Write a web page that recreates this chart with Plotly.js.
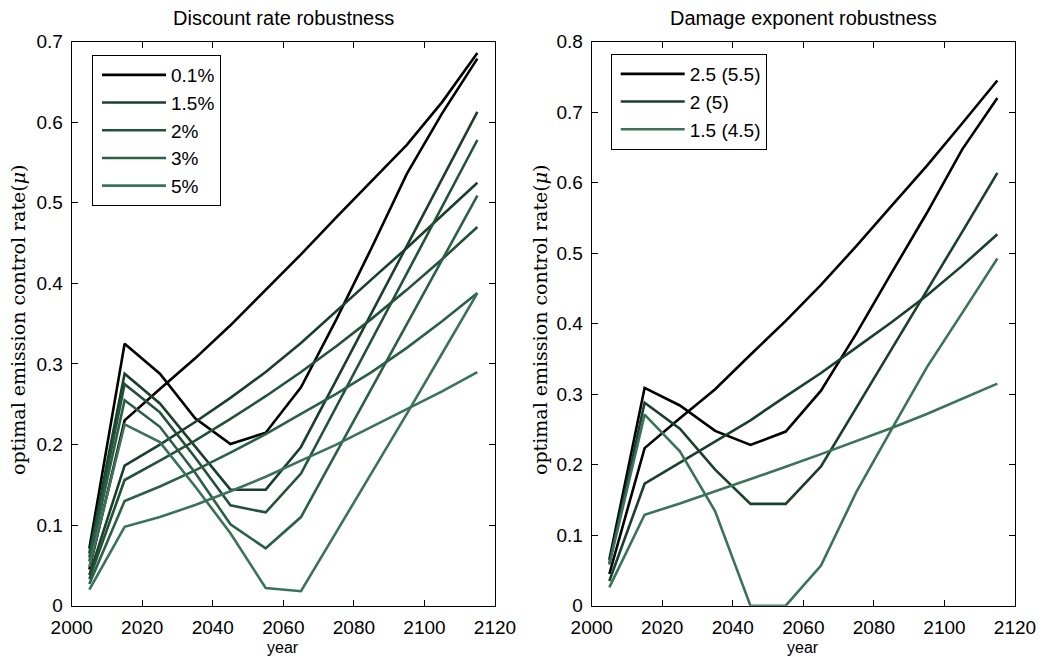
<!DOCTYPE html>
<html>
<head>
<meta charset="utf-8">
<script src="https://cdn.plot.ly/plotly-3.0.1.min.js"></script>
<style>html,body{margin:0;padding:0;background:#fff;}#chart{width:1043px;height:657px;}</style>
</head>
<body>
<div id="chart"></div>
<script>
// ---- data ----
var years = [2005,2015,2025,2035,2045,2055,2065,2075,2085,2095,2105,2115];

// Left panel: discount rate robustness (each rate: optimal path with dip, and smoother path)
var discountLabels = ['0.1%','1.5%','2%','3%','5%'];
var dr01_dip    = [0.071,0.325,0.288,0.2325,0.2006,0.2147,0.271,0.355,0.444,0.536,0.611,0.679];
var dr01_smooth = [0.045,0.230,0.269,0.307,0.348,0.392,0.436,0.482,0.527,0.572,0.625,0.686];
var dr15_dip    = [0.065,0.288,0.251,0.197,0.144,0.144,0.197,0.280,0.363,0.446,0.530,0.613];
var dr15_smooth = [0.038,0.174,0.200,0.228,0.258,0.290,0.326,0.366,0.405,0.444,0.484,0.525];
var dr2_dip     = [0.060,0.275,0.240,0.184,0.1245,0.1158,0.164,0.247,0.330,0.412,0.495,0.578];
var dr2_smooth  = [0.033,0.156,0.180,0.205,0.232,0.260,0.290,0.322,0.356,0.392,0.430,0.470];
var dr3_dip     = [0.055,0.255,0.222,0.165,0.101,0.0712,0.110,0.190,0.270,0.350,0.430,0.509];
var dr3_smooth  = [0.027,0.130,0.148,0.168,0.190,0.213,0.238,0.263,0.290,0.320,0.353,0.388];
var dr5_dip     = [0.048,0.225,0.203,0.148,0.090,0.022,0.018,0.091,0.164,0.238,0.313,0.388];
var dr5_smooth  = [0.020,0.098,0.110,0.125,0.142,0.160,0.180,0.200,0.222,0.244,0.266,0.290];

// Right panel: damage exponent robustness
var damageLabels = ['2.5 (5.5)','2 (5)','1.5 (4.5)'];
var de25_dip    = [0.065,0.309,0.284,0.248,0.228,0.247,0.305,0.386,0.472,0.557,0.647,0.720];
var de25_smooth = [0.045,0.2235,0.266,0.307,0.356,0.404,0.455,0.510,0.567,0.624,0.684,0.745];
var de2_dip     = [0.060,0.288,0.251,0.193,0.1445,0.1445,0.1975,0.280,0.364,0.447,0.530,0.614];
var de2_smooth  = [0.035,0.173,0.203,0.233,0.263,0.297,0.330,0.366,0.402,0.440,0.482,0.527];
var de15_dip    = [0.058,0.271,0.219,0.134,0,0,0.057,0.161,0.250,0.338,0.415,0.4925];
var de15_smooth = [0.026,0.129,0.145,0.162,0.179,0.197,0.215,0.233,0.252,0.272,0.293,0.315];

var leftColors  = ['#000000','#1b3f2d','#22523a','#2a6046','#3a7359'];
var rightColors = ['#000000','#1b3f2d','#3a7359'];

var leftSeries = [
  [dr01_dip, dr01_smooth],[dr15_dip, dr15_smooth],[dr2_dip, dr2_smooth],
  [dr3_dip, dr3_smooth],[dr5_dip, dr5_smooth]
];
var rightSeries = [[de25_dip, de25_smooth],[de2_dip, de2_smooth],[de15_dip, de15_smooth]];

var traces = [];
leftSeries.forEach(function(s, i){
  traces.push({x: years, y: s[0], type:'scatter', mode:'lines', name: discountLabels[i],
    line:{color:leftColors[i], width:2.6}, xaxis:'x', yaxis:'y', legend:'legend', legendgroup:'L'+i});
  traces.push({x: years, y: s[1], type:'scatter', mode:'lines', name: discountLabels[i], showlegend:false,
    line:{color:leftColors[i], width:2.6}, xaxis:'x', yaxis:'y', legendgroup:'L'+i});
});
rightSeries.forEach(function(s, i){
  traces.push({x: years, y: s[0], type:'scatter', mode:'lines', name: damageLabels[i],
    line:{color:rightColors[i], width:2.6}, xaxis:'x2', yaxis:'y2', legend:'legend2', legendgroup:'R'+i});
  traces.push({x: years, y: s[1], type:'scatter', mode:'lines', name: damageLabels[i], showlegend:false,
    line:{color:rightColors[i], width:2.6}, xaxis:'x2', yaxis:'y2', legendgroup:'R'+i});
});

var W = 1043, H = 657;
var SANS = 'Liberation Sans, Arial, sans-serif';
var tickFont = {family:SANS, size:19, color:'#000'};
function xax(dom){
  return {domain:dom, range:[2000,2120], dtick:20, tick0:2000, ticks:'inside', ticklen:6, tickwidth:1,
    tickcolor:'#000', showline:true, linecolor:'#000', linewidth:1, mirror:'ticks', showgrid:false,
    zeroline:false, tickfont:tickFont, ticklabelstandoff:4, fixedrange:true};
}
function yax(rmax, anchor){
  return {domain:[(H-605.7)/H, 1-41.7/H], range:[0,rmax], dtick:0.1, tick0:0, ticks:'inside', ticklen:6,
    tickwidth:1, tickcolor:'#000', showline:true, linecolor:'#000', linewidth:1, mirror:'ticks',
    showgrid:false, zeroline:false, tickfont:tickFont, ticklabelstandoff:4, anchor:anchor, fixedrange:true};
}
var legFont = {family:SANS, size:19, color:'#000'};
function leg(x, y){
  return {x:x, y:y, xanchor:'left', yanchor:'top', bgcolor:'#fff', bordercolor:'#000',
    borderwidth:1, font:legFont, itemwidth:64, tracegroupgap:0, indentation:4};
}
var layout = {
  width:W, height:H, margin:{l:0,r:0,t:0,b:0}, paper_bgcolor:'#fff', plot_bgcolor:'#fff',
  showlegend:true,
  xaxis: xax([71.7/W, 495/W]),
  yaxis: yax(0.7, 'x'),
  xaxis2: xax([591.7/W, 1015/W]),
  yaxis2: yax(0.8, 'x2'),
  legend: leg(92/W, 1-55/H),
  legend2: leg(610.7/W, 1-54/H),
  annotations: [
    {text:'Discount rate robustness', x:283/W, y:1-18/H, xref:'paper', yref:'paper', showarrow:false,
      xanchor:'center', yanchor:'middle', font:{family:SANS, size:20, color:'#000'}},
    {text:'Damage exponent robustness', x:803/W, y:1-18/H, xref:'paper', yref:'paper', showarrow:false,
      xanchor:'center', yanchor:'middle', font:{family:SANS, size:20, color:'#000'}},
    {text:'year', x:283/W, y:0, xref:'paper', yref:'paper', showarrow:false, borderpad:0,
      xanchor:'center', yanchor:'bottom', font:{family:SANS, size:16, color:'#000'}},
    {text:'year', x:803/W, y:0, xref:'paper', yref:'paper', showarrow:false, borderpad:0,
      xanchor:'center', yanchor:'bottom', font:{family:SANS, size:16, color:'#000'}},
    {text:'optimal emission control rate(<i>μ</i>)', x:18/W, y:1-320/H, xref:'paper', yref:'paper', showarrow:false,
      textangle:-90, xanchor:'center', yanchor:'middle', font:{family:'DejaVu Serif, Liberation Serif, serif', size:19, color:'#000'}},
    {text:'optimal emission control rate(<i>μ</i>)', x:540/W, y:1-320/H, xref:'paper', yref:'paper', showarrow:false,
      textangle:-90, xanchor:'center', yanchor:'middle', font:{family:'DejaVu Serif, Liberation Serif, serif', size:19, color:'#000'}}
  ]
};
Plotly.newPlot('chart', traces, layout, {displayModeBar:false, staticPlot:true});
</script>
</body>
</html>
